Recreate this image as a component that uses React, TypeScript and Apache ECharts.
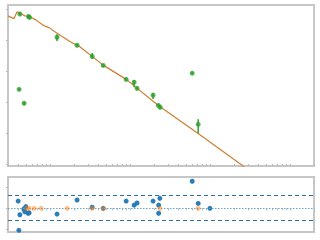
import React, { useEffect, useRef } from "react";
import * as echarts from "echarts";

// model curve (top panel)
const modelX = [0.3, 0.355, 0.39, 0.447, 0.487, 0.551, 0.668, 0.824, 0.866, 0.98, 1.155, 1.778, 2.371, 4.64, 8.99, 22.7, 75, 300];
const modelY = [4.78, 4.69, 4.91, 4.83, 4.78, 4.77, 4.65, 4.48, 4.45, 4.4, 4.27, 3.95, 3.78, 3.19, 2.73, 1.89, 0.94, -0.18];

// observations (top panel)
const obsX = [0.413, 0.422, 0.477, 0.542, 0.557, 1.23, 2.19, 3.38, 4.64, 8.99, 11.3, 12.3, 19.5, 22.7, 23.9, 60.1, 71.4];
const obsY = [2.41, 4.84, 1.96, 4.76, 4.73, 4.09, 3.83, 3.47, 3.18, 2.73, 2.64, 2.44, 2.22, 1.89, 1.83, 2.93, 1.28];
const errDown = [0.04, 0.04, 0.04, 0.04, 0.04, 0.12, 0.04, 0.08, 0.04, 0.04, 0.16, 0.04, 0.12, 0.04, 0.04, 0.04, 0.29];
const errUp = [0.04, 0.04, 0.04, 0.04, 0.04, 0.1, 0.04, 0.11, 0.04, 0.04, 0.06, 0.04, 0.08, 0.04, 0.04, 0.04, 0.16];

// residuals (bottom panel)
const resX = [0.402, 0.41, 0.422, 0.473, 0.487, 0.501, 0.535, 0.551, 1.23, 2.19, 3.38, 4.64, 8.99, 11.3, 12.3, 19.5, 22.9, 22.9, 23.7, 60.1, 71.4, 100];
const resY = [0.34, -1.03, -0.3, -0.03, -0.16, 0.08, -0.23, -0.21, -0.27, 0.39, 0.05, 0.0, 0.34, 0.15, 0.25, 0.34, 0.15, -0.23, 0.47, 1.27, 0.23, 0.0];
const zeroX = [0.511, 0.551, 0.636, 0.778, 1.645, 3.38, 4.64, 23.7, 71.4];
const zeroY = [0, 0, 0, 0, 0, 0, 0, 0, 0];
const bandHigh = 0.62;
const bandLow = -0.56;

// ticks
const xTicks = [
  0.3, 0.4, 0.5, 0.6, 0.7, 0.8, 0.9,
  1, 2, 3, 4, 5, 6, 7, 8, 9,
  10, 20, 30, 40, 50, 60, 70, 80, 90,
  100, 200, 300, 400, 500, 600, 700, 800, 900,
  1000, 2000,
];
const topYTicks = [0, 1, 2, 3, 4, 5];
const botYTicks = [-1, 0, 1];

const tickColor = "#b8b8b8";
const frameColor = "#c6c6c6";

export default function App() {
  const ref = useRef<HTMLDivElement>(null);
  useEffect(() => {
    if (!ref.current) return;
    const chart = echarts.init(ref.current, undefined, { renderer: "svg" });
    const xAxisBase = (gridIndex: number) => ({
      type: "log" as const,
      gridIndex,
      min: 0.3,
      max: 2000,
      logBase: 10,
      axisLine: { show: false },
      axisLabel: { show: false },
      splitLine: { show: false },
      axisTick: {
        show: true,
        length: 2,
        customValues: xTicks,
        lineStyle: { color: tickColor, width: 1 },
      },
    });
    const yAxisBase = (gridIndex: number, min: number, max: number, ticks: number[]) => ({
      type: "value" as const,
      gridIndex,
      min,
      max,
      axisLine: { show: false },
      axisLabel: { show: false },
      splitLine: { show: false },
      axisTick: {
        show: true,
        length: 2,
        customValues: ticks,
        lineStyle: { color: tickColor, width: 1 },
      },
    });
    chart.setOption({
      animation: false,
      grid: [
        { left: 8, top: 5, width: 306, height: 161, show: true, borderColor: frameColor, borderWidth: 2, backgroundColor: "transparent" },
        { left: 8, top: 177, width: 306, height: 55, show: true, borderColor: frameColor, borderWidth: 2, backgroundColor: "transparent" },
      ],
      xAxis: [xAxisBase(0), xAxisBase(1)],
      yAxis: [yAxisBase(0, -0.065, 5.13, topYTicks), yAxisBase(1, -1.11, 1.47, botYTicks)],
      series: [
        {
          type: "line",
          xAxisIndex: 0,
          yAxisIndex: 0,
          data: modelX.map((x, i) => [x, modelY[i]]),
          showSymbol: false,
          lineStyle: { color: "#cf7f31", width: 1.2 },
          clip: true,
          z: 3,
        },
        {
          type: "custom",
          xAxisIndex: 0,
          yAxisIndex: 0,
          data: obsX.map((x, i) => [x, obsY[i] - errDown[i], obsY[i] + errUp[i]]),
          renderItem: (params: any, api: any) => {
            const p1 = api.coord([api.value(0), api.value(1)]);
            const p2 = api.coord([api.value(0), api.value(2)]);
            return {
              type: "line",
              shape: { x1: p1[0], y1: p1[1], x2: p2[0], y2: p2[1] },
              style: { stroke: "#2ca02c", lineWidth: 1.5 },
            };
          },
          z: 4,
        },
        {
          type: "scatter",
          xAxisIndex: 0,
          yAxisIndex: 0,
          data: obsX.map((x, i) => [x, obsY[i]]),
          symbolSize: 5,
          itemStyle: { color: "#2ca02c" },
          z: 5,
        },
        {
          type: "scatter",
          xAxisIndex: 1,
          yAxisIndex: 1,
          data: resX.map((x, i) => [x, resY[i]]),
          symbolSize: 5,
          itemStyle: { color: "#1f77b4", opacity: 0.95 },
          markLine: {
            silent: true,
            symbol: "none",
            label: { show: false },
            data: [
              { yAxis: bandHigh, lineStyle: { color: "#2a6fab", width: 1, type: [4, 3] } },
              { yAxis: bandLow, lineStyle: { color: "#2a6fab", width: 1, type: [4, 3] } },
              { yAxis: 0, lineStyle: { color: "#5ea6d6", width: 1.2, type: [1.5, 1.5] } },
            ],
          },
          z: 4,
        },
        {
          type: "scatter",
          xAxisIndex: 1,
          yAxisIndex: 1,
          data: zeroX.map((x, i) => [x, zeroY[i]]),
          symbolSize: 5,
          itemStyle: { color: "#ff7f0e", opacity: 0.5 },
          z: 5,
        },
      ],
    });
    return () => chart.dispose();
  }, []);
  return <div ref={ref} style={{ position: "absolute", left: 0, top: 0, width: 320, height: 240 }} />;
}
